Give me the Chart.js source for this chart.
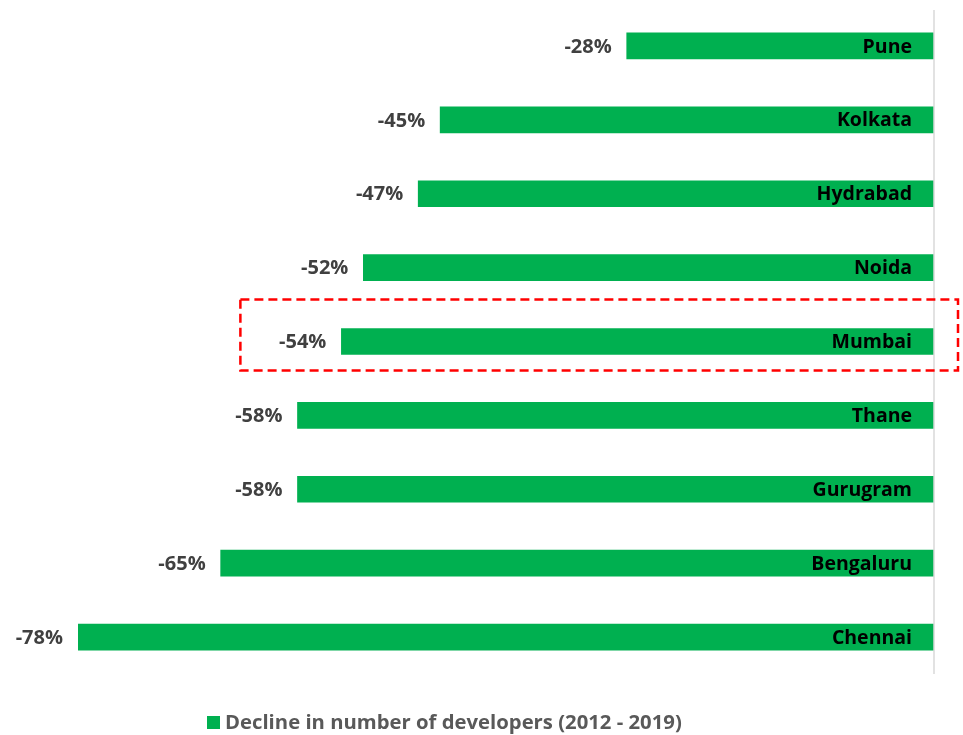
<!DOCTYPE html>
<html>
<head>
<meta charset="utf-8">
<script src="https://cdn.jsdelivr.net/npm/chart.js@4.4.1/dist/chart.umd.min.js"></script>
<style>
body { margin: 0; background: #fff; }
#wrap { width: 963px; height: 735px; }
</style>
</head>
<body>
<div id="wrap"><canvas id="chart" width="963" height="735"></canvas></div>
<script>
const cities = ["Pune", "Kolkata", "Hydrabad", "Noida", "Mumbai", "Thane", "Gurugram", "Bengaluru", "Chennai"];
const decline = [-28, -45, -47, -52, -54, -58, -58, -65, -78];
const seriesName = "Decline in number of developers (2012 - 2019)";
const highlightCity = "Mumbai";

const green = "#00B050";
const fontFam = "'Open Sans', 'Noto Sans', sans-serif";

// labels, zero line, highlight box and legend
const decorPlugin = {
    id: "decor",
    afterDatasetsDraw(chart) {
        const ctx = chart.ctx;
        const x = chart.scales.x, y = chart.scales.y;
        const area = chart.chartArea;
        const zero = x.getPixelForValue(0);

        ctx.save();
        ctx.strokeStyle = "#d9d9d9";
        ctx.lineWidth = 1.5;
        ctx.beginPath();
        ctx.moveTo(zero, area.top + 1);
        ctx.lineTo(zero, area.bottom);
        ctx.stroke();

        ctx.textBaseline = "middle";
        decline.forEach(function (v, i) {
            const yc = y.getPixelForValue(i);
            const xe = x.getPixelForValue(v);
            ctx.font = "bold 20px " + fontFam;
            ctx.fillStyle = "#404040";
            ctx.textAlign = "right";
            ctx.fillText(v + "%", xe - 15, yc + 1);
            ctx.font = "bold 19.5px " + fontFam;
            ctx.fillStyle = "#000";
            ctx.fillText(cities[i], zero - 22, yc + 1);
        });

        const hi = cities.indexOf(highlightCity);
        if (hi >= 0) {
            const yc = y.getPixelForValue(hi);
            const xe = x.getPixelForValue(decline[hi]);
            ctx.strokeStyle = "#FF0000";
            ctx.lineWidth = 2.5;
            ctx.setLineDash([9, 5]);
            ctx.strokeRect(xe - 101, yc - 42, zero + 24 - (xe - 101), 71);
            ctx.setLineDash([]);
        }

        // legend
        const lx = 207, ly = 723;
        ctx.fillStyle = green;
        ctx.fillRect(lx, ly - 7, 13, 13);
        ctx.fillStyle = "#595959";
        ctx.textAlign = "left";
        ctx.font = "bold 20.3px " + fontFam;
        ctx.fillText(chart.data.datasets[0].label, lx + 18, ly);
        ctx.restore();
    }
};

new Chart(document.getElementById("chart"), {
    type: "bar",
    data: {
        labels: cities,
        datasets: [{
            label: seriesName,
            data: decline,
            backgroundColor: green,
            barThickness: 26
        }]
    },
    options: {
        indexAxis: "y",
        responsive: false,
        animation: false,
        layout: { padding: { left: 78, right: 29, top: 9, bottom: 61 } },
        scales: {
            x: { min: -78, max: 0, display: false },
            y: { display: false }
        },
        plugins: {
            legend: { display: false },
            tooltip: { enabled: false }
        }
    },
    plugins: [decorPlugin]
});
</script>
</body>
</html>
